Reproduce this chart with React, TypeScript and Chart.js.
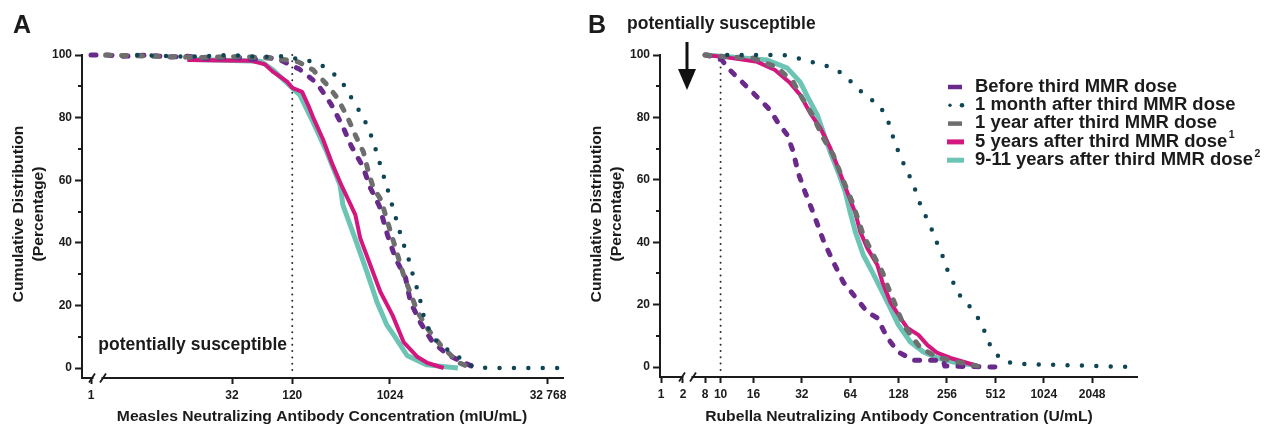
import React, { useEffect, useRef } from "react";
import { Chart, registerables } from "chart.js";

Chart.register(...registerables);

type Pt = [number, number]; // [concentration, cumulative %]

// ---------- ticks ----------
const MEASLES_TICKS = [1, 32, 120, 1024, 32768];
const MEASLES_TICK_LABELS = ["1", "32", "120", "1024", "32 768"];
const RUBELLA_TICKS = [1, 2, 8, 10, 16, 32, 64, 128, 256, 512, 1024, 2048];
const RUBELLA_TICK_LABELS = ["1", "2", "8", "10", "16", "32", "64", "128", "256", "512", "1024", "2048"];
const Y_MAJOR_TICKS = [0, 20, 40, 60, 80, 100];
const Y_MINOR_TICKS = [10, 30, 50, 70, 90];
const MEASLES_THRESHOLD = 120;
const RUBELLA_THRESHOLD = 10;

const SERIES_LABELS = [
  "Before third MMR dose",
  "1 month after third MMR dose",
  "1 year after third MMR dose",
  "5 years after third MMR dose",
  "9-11 years after third MMR dose",
];
const SERIES_SUPERSCRIPTS = ["", "", "", "1", "2"];

// ---------- Measles (panel A) ----------
const measlesBefore: Pt[] = [
  [1, 100], [2, 100], [3, 99.6], [5, 100], [8, 99.3], [12, 99.6], [20, 98.8], [32, 99.4], [50, 98.6],
  [70, 99.2], [92, 98.4], [140, 95.5], [206, 91], [280, 84.4], [362, 77.3], [440, 70.8], [562, 64.5],
  [667, 57.5], [810, 51.8], [969, 42.5], [1156, 35], [1440, 28.8], [1608, 21], [2004, 14.4],
  [2608, 8.3], [3709, 4], [6720, 0],
];
const measlesMonth: Pt[] = [
  [4, 100], [12, 99.4], [30, 100], [60, 99.4], [100, 99.6], [120, 99], [159, 98.4], [214, 97.4],
  [276, 94.9], [350, 92], [411, 87.9], [477, 84.3], [560, 80.5], [635, 76.7], [712, 72.2], [778, 68],
  [849, 63.6], [927, 59.4], [1013, 55], [1106, 50.5], [1319, 41.5], [1608, 32.9], [1717, 28.8],
  [1917, 24], [2187, 15.3], [2608, 9.9], [3110, 7.3], [4050, 4.8], [5050, 2.6], [6432, 0.3],
  [8945, 0], [43500, 0],
];
const measlesYear: Pt[] = [
  [2, 100], [6, 99.6], [16, 99.2], [40, 99.5], [80, 99], [137, 97.8], [190, 95.2], [259, 90.4],
  [322, 86.3], [402, 80.2], [479, 74.4], [572, 69], [638, 62.6], [712, 57.5], [868, 53], [888, 51],
  [1082, 41.5], [1379, 29.7], [1875, 17.9], [2389, 12.1], [3110, 7.3], [4523, 1.9], [6023, 0],
];
const measles5y: Pt[] = [
  [12, 98.4], [48, 98.2], [66, 97], [79, 94.6], [108, 91.4], [120, 89.5], [149, 88.2], [170, 84],
  [190, 80], [236, 73], [286, 65.5], [357, 58], [425, 52.7], [479, 48.9], [533, 41.5], [665, 32.9],
  [830, 24.3], [1082, 16.9], [1380, 8.3], [1875, 3.5], [2335, 1.6], [3320, 0],
];
const measles9y: Pt[] = [
  [14, 98.6], [60, 98], [80, 95], [115, 90], [142, 87.2], [189, 78.6], [256, 69], [342, 58.5],
  [365, 52], [475, 41.5], [617, 30.7], [771, 21], [957, 13.7], [1091, 11], [1489, 4], [2300, 1],
  [4540, 0],
];

// ---------- Rubella (panel B) ----------
const rubellaBefore: Pt[] = [
  [8, 100], [8.2, 100], [10.2, 98.4], [11, 96], [13.2, 92], [16.4, 87.2], [20.3, 82.4], [22.8, 78.2],
  [26, 74.4], [28.3, 69], [30.4, 62.2], [33.6, 56], [37.7, 49.4], [43.5, 40.7], [50.2, 33.7],
  [58, 27.2], [68.9, 22.4], [81.8, 17.6], [94.4, 15.7], [109, 9.3], [127.6, 4.8], [158, 2.2],
  [243, 2.2], [248, 0.3], [528, 0],
];
const rubellaMonth: Pt[] = [
  [11, 100], [13.2, 100], [15.9, 100], [19.8, 100], [24.5, 100], [30, 99], [36.6, 97.8], [44.1, 96.8],
  [53.2, 95.2], [61.4, 92.6], [70.9, 89.4], [81.8, 86.5], [95.8, 84.3], [105.9, 80.8], [113.8, 76.9],
  [120.5, 72.1], [129.5, 68.3], [141.1, 63.8], [156.1, 59.3], [175, 52], [190.8, 47.8], [207.9, 43.6],
  [223.3, 39.4], [243.4, 34.9], [257.8, 31.1], [281, 26.9], [306.3, 23.1], [348.5, 19.9], [396.5, 16],
  [432.3, 12.2], [464.4, 8], [506.1, 4.5], [592.8, 1.6], [724.5, 1], [3720, 0],
];
const rubellaYear: Pt[] = [
  [8, 100], [11.1, 99.4], [15.9, 99], [22.5, 96], [28.3, 91.3], [32.2, 86.2], [37.2, 80.8],
  [43.5, 73.4], [50.2, 68], [57.1, 60.6], [65.9, 52.9], [70.9, 48], [77.2, 42.3], [89.2, 35.9],
  [101.5, 30.4], [110.6, 25.3], [122.3, 19.9], [137.1, 13.5], [175, 6.1], [223.3, 3.2], [297.6, 1.6],
  [374.5, 0.6], [396.5, 0.3],
];
const rubella5y: Pt[] = [
  [8, 100], [10.4, 99.4], [16.9, 97.8], [21.8, 95.2], [27.1, 91], [31.3, 87.2], [36.1, 81.4],
  [41.7, 76.6], [48.1, 70.2], [53.9, 63.8], [61.4, 56], [68.9, 49.4], [74, 43.3], [81.8, 38.1],
  [94.4, 32.7], [101.5, 27.2], [113.8, 20.8], [131.4, 15.7], [145.2, 12.5], [170, 10.3], [193.5, 7],
  [223.3, 4.5], [269, 2.9], [343.5, 1.3], [414, 0],
];
const rubella9y: Pt[] = [
  [8, 100], [11.5, 99.4], [19.5, 98.4], [26, 95.8], [31.3, 91.3], [35.1, 86.2], [39.9, 80.8],
  [43.5, 75.3], [48.1, 68.9], [53.9, 62.5], [59.7, 56], [64.1, 49.4], [68.9, 43.3], [77.2, 35.9],
  [87.9, 30.4], [98.6, 25.3], [113.8, 18.9], [127.6, 13.5], [151.6, 8], [182.7, 4.8], [223.3, 2.9],
  [297.6, 1.3], [374.5, 0.6], [400, 0],
];

// ---------- styles ----------
const FONT = "'Liberation Sans', Arial, Helvetica, sans-serif";
const INK = "#1b1b1b";
const STYLES = [
  { color: "#6a2a8b", width: 5, dash: [5, 11], cap: "round" },
  { color: "#0f4656", width: 4.5, dash: [0, 14.4], cap: "round" },
  { color: "#6e6e6e", width: 5, dash: [5, 11], cap: "round" },
  { color: "#d3177f", width: 4, dash: [] as number[], cap: "butt" },
  { color: "#6cc4b4", width: 5, dash: [] as number[], cap: "butt" },
];
const DRAW_ORDER = [2, 0, 1, 3, 4]; // lower = drawn on top

type AxisCfg = { breakAt: number; lowOrigin: number; lowScale: number; min: number; max: number };
const MEASLES_AXIS: AxisCfg = { breakAt: 2, lowOrigin: 0.538, lowScale: 0.454, min: 0.253, max: 15.475 };
const RUBELLA_AXIS: AxisCfg = { breakAt: 4, lowOrigin: 2.091, lowScale: 0.454, min: 2.07, max: 11.926 };

const toAxis = (v: number, ax: AxisCfg) =>
  v >= ax.breakAt ? Math.log2(v) : ax.lowOrigin + Math.log2(v) * ax.lowScale;

function drawText(
  ctx: CanvasRenderingContext2D, text: string, x: number, y: number, size: number,
  o: { align?: CanvasTextAlign; baseline?: CanvasTextBaseline; sx?: number; rotate?: boolean } = {}
) {
  ctx.save();
  ctx.translate(x, y);
  if (o.rotate) ctx.rotate(-Math.PI / 2);
  ctx.scale(o.sx ?? 1, 1);
  ctx.font = `bold ${size}px ${FONT}`;
  ctx.textAlign = o.align ?? "left";
  ctx.textBaseline = o.baseline ?? "alphabetic";
  ctx.fillStyle = INK;
  ctx.fillText(text, 0, 0);
  ctx.restore();
}

type Panel = {
  key: string;
  offsetX: number;
  width: number;
  series: Pt[][];
  axis: AxisCfg;
  ticks: number[];
  tickLabels: string[];
  threshold: number;
  thresholdTop: number;
  yAxisWidth: number;
  padRight: number;
  xAxisHeight: number;
  yMin: number;
  letter: string;
  letterX: number;
  xTitle: string;
  xTitleX: number;
  yTitleX: [number, number];
  breaks: [number, number];
  legend: boolean;
};

const PANELS: Panel[] = [
  {
    key: "A", offsetX: 0, width: 580,
    series: [measlesBefore, measlesMonth, measlesYear, measles5y, measles9y],
    axis: MEASLES_AXIS, ticks: MEASLES_TICKS, tickLabels: MEASLES_TICK_LABELS,
    threshold: MEASLES_THRESHOLD, thresholdTop: 100,
    yAxisWidth: 82, padRight: 17, xAxisHeight: 47, yMin: -3.19,
    letter: "A", letterX: 13,
    xTitle: "Measles Neutralizing Antibody Concentration (mIU/mL)", xTitleX: 322,
    yTitleX: [19, 39], breaks: [92, 103], legend: false,
  },
  {
    key: "B", offsetX: 580, width: 687,
    series: [rubellaBefore, rubellaMonth, rubellaYear, rubella5y, rubella9y],
    axis: RUBELLA_AXIS, ticks: RUBELLA_TICKS, tickLabels: RUBELLA_TICK_LABELS,
    threshold: RUBELLA_THRESHOLD, thresholdTop: 96,
    yAxisWidth: 80, padRight: 130, xAxisHeight: 48, yMin: -3.2,
    letter: "B", letterX: 588,
    xTitle: "Rubella Neutralizing Antibody Concentration (U/mL)", xTitleX: 899,
    yTitleX: [597, 617], breaks: [682, 693], legend: true,
  },
];

function decorPlugin(p: Panel) {
  return {
    id: "decor" + p.key,
    beforeDatasetsDraw(chart: any) {
      const { ctx, chartArea, scales } = chart;
      const x = scales.x.getPixelForValue(toAxis(p.threshold, p.axis));
      const yTop = scales.y.getPixelForValue(p.thresholdTop);
      ctx.save();
      ctx.strokeStyle = "#2a2a2a";
      ctx.lineWidth = 2;
      ctx.lineCap = "round";
      ctx.setLineDash([0, 6.3]);
      ctx.beginPath();
      ctx.moveTo(x, yTop);
      ctx.lineTo(x, chartArea.bottom - 4);
      ctx.stroke();
      ctx.restore();
    },
    afterDraw(chart: any) {
      const { ctx, chartArea, scales } = chart;
      // minor y ticks
      ctx.save();
      ctx.strokeStyle = INK;
      ctx.lineWidth = 2;
      Y_MINOR_TICKS.forEach((v) => {
        const y = Math.round(scales.y.getPixelForValue(v));
        ctx.beginPath();
        ctx.moveTo(chartArea.left - 4, y);
        ctx.lineTo(chartArea.left, y);
        ctx.stroke();
      });
      ctx.restore();

      ctx.save();
      ctx.translate(-p.offsetX, 0);
      // axis break
      const yb = chartArea.bottom;
      ctx.fillStyle = "#ffffff";
      ctx.fillRect(p.breaks[0] + 1.5, yb - 2, p.breaks[1] - p.breaks[0] - 3, 4);
      ctx.strokeStyle = INK;
      ctx.lineWidth = 1.8;
      p.breaks.forEach((bx) => {
        ctx.beginPath();
        ctx.moveTo(bx - 3, yb + 4.5);
        ctx.lineTo(bx + 3, yb - 4.5);
        ctx.stroke();
      });

      // panel letter
      drawText(ctx, p.letter, p.letterX, 33, 25);
      // axis titles
      drawText(ctx, p.xTitle, p.xTitleX, 421, 14, { align: "center", sx: 1.12 });
      drawText(ctx, "Cumulative Distribution", p.yTitleX[0], 214, 14, { align: "center", baseline: "middle", sx: 1.12, rotate: true });
      drawText(ctx, "(Percentage)", p.yTitleX[1], 214, 14, { align: "center", baseline: "middle", sx: 1.12, rotate: true });

      if (!p.legend) {
        drawText(ctx, "potentially susceptible", 287, 350, 17.5, { align: "right" });
      } else {
        drawText(ctx, "potentially susceptible", 627, 29, 17.5);
        // arrow
        ctx.fillStyle = "#111";
        ctx.strokeStyle = "#111";
        ctx.lineWidth = 3;
        ctx.beginPath();
        ctx.moveTo(687, 42);
        ctx.lineTo(687, 72);
        ctx.stroke();
        ctx.beginPath();
        ctx.moveTo(678, 69);
        ctx.lineTo(696, 69);
        ctx.lineTo(687, 90);
        ctx.closePath();
        ctx.fill();

        // legend
        const LS = 17.5;
        ctx.font = `bold ${LS}px ${FONT}`;
        const sx = 202 / ctx.measureText(SERIES_LABELS[0]).width;
        chart.data.datasets.forEach((ds: any, i: number) => {
          const y = 87 + i * 18.3;
          const st = STYLES[i];
          ctx.save();
          ctx.strokeStyle = st.color;
          ctx.fillStyle = st.color;
          if (st.dash.length && st.dash[0] === 0) {
            [950, 962].forEach((cx, k) => {
              ctx.beginPath();
              ctx.arc(cx, y, k === 0 ? 1.7 : 2.3, 0, Math.PI * 2);
              ctx.fill();
            });
          } else if (st.dash.length) {
            ctx.lineWidth = 4.5;
            ctx.beginPath();
            ctx.moveTo(948, y);
            ctx.lineTo(962, y);
            ctx.stroke();
          } else {
            ctx.lineWidth = 5;
            ctx.beginPath();
            ctx.moveTo(947, y);
            ctx.lineTo(964, y);
            ctx.stroke();
          }
          ctx.restore();
          drawText(ctx, ds.label, 975, y, LS, { baseline: "middle", sx });
          const sup = SERIES_SUPERSCRIPTS[i];
          if (sup) {
            ctx.font = `bold ${LS}px ${FONT}`;
            const w = ctx.measureText(ds.label).width * sx;
            drawText(ctx, sup, 975 + w + 1.5, y - 3.5, 10.5);
          }
        });
      }
      ctx.restore();
    },
  };
}

function buildChart(canvas: HTMLCanvasElement, p: Panel) {
  const tickFont = { family: FONT, size: 12, weight: "bold" as const };
  const datasets = p.series.map((s, i) => ({
    label: SERIES_LABELS[i],
    data: s.map(([v, pct]) => ({ x: toAxis(v, p.axis), y: pct })),
    borderColor: STYLES[i].color,
    borderWidth: STYLES[i].width,
    borderDash: STYLES[i].dash,
    borderCapStyle: STYLES[i].cap as CanvasLineCap,
    borderJoinStyle: "round" as CanvasLineJoin,
    pointRadius: 0,
    pointHoverRadius: 0,
    fill: false,
    tension: 0,
    clip: false as const,
    order: DRAW_ORDER[i],
  }));
  return new Chart(canvas, {
    type: "line",
    data: { datasets },
    options: {
      animation: false,
      responsive: false,
      maintainAspectRatio: false,
      events: [],
      layout: { padding: { left: 0, top: 55, right: p.padRight, bottom: 0 }, autoPadding: false },
      plugins: { legend: { display: false }, tooltip: { enabled: false } },
      scales: {
        x: {
          type: "linear",
          min: p.axis.min,
          max: p.axis.max,
          afterBuildTicks: (scale: any) => {
            scale.ticks = p.ticks.map((v) => ({ value: toAxis(v, p.axis) }));
          },
          afterFit: (scale: any) => {
            scale.height = p.xAxisHeight;
          },
          ticks: {
            autoSkip: false,
            maxRotation: 0,
            minRotation: 0,
            padding: 4,
            color: INK,
            font: tickFont,
            callback: (_v: any, i: number) => p.tickLabels[i],
          },
          grid: { display: true, drawOnChartArea: false, drawTicks: true, tickLength: 6, tickWidth: 2, tickColor: INK },
          border: { display: true, color: INK, width: 2 },
        },
        y: {
          type: "linear",
          min: p.yMin,
          max: 100,
          afterBuildTicks: (scale: any) => {
            scale.ticks = Y_MAJOR_TICKS.map((v) => ({ value: v }));
          },
          afterFit: (scale: any) => {
            scale.width = p.yAxisWidth;
          },
          ticks: { padding: 3, color: INK, font: tickFont, callback: (v: any) => String(v) },
          grid: { display: true, drawOnChartArea: false, drawTicks: true, tickLength: 7, tickWidth: 2, tickColor: INK },
          border: { display: true, color: INK, width: 2 },
        },
      },
    },
    plugins: [decorPlugin(p)],
  } as any);
}

function PanelChart({ panel }: { panel: Panel }) {
  const ref = useRef<HTMLCanvasElement>(null);
  useEffect(() => {
    if (!ref.current) return;
    const chart = buildChart(ref.current, panel);
    return () => chart.destroy();
  }, [panel]);
  return (
    <canvas
      ref={ref}
      width={panel.width}
      height={425}
      style={{ position: "absolute", left: panel.offsetX, top: 0, width: panel.width, height: 425 }}
    />
  );
}

export default function App() {
  return (
    <div style={{ position: "absolute", left: 0, top: 0, width: 1267, height: 425, background: "#fff", overflow: "hidden" }}>
      {PANELS.map((p) => (
        <PanelChart key={p.key} panel={p} />
      ))}
    </div>
  );
}
